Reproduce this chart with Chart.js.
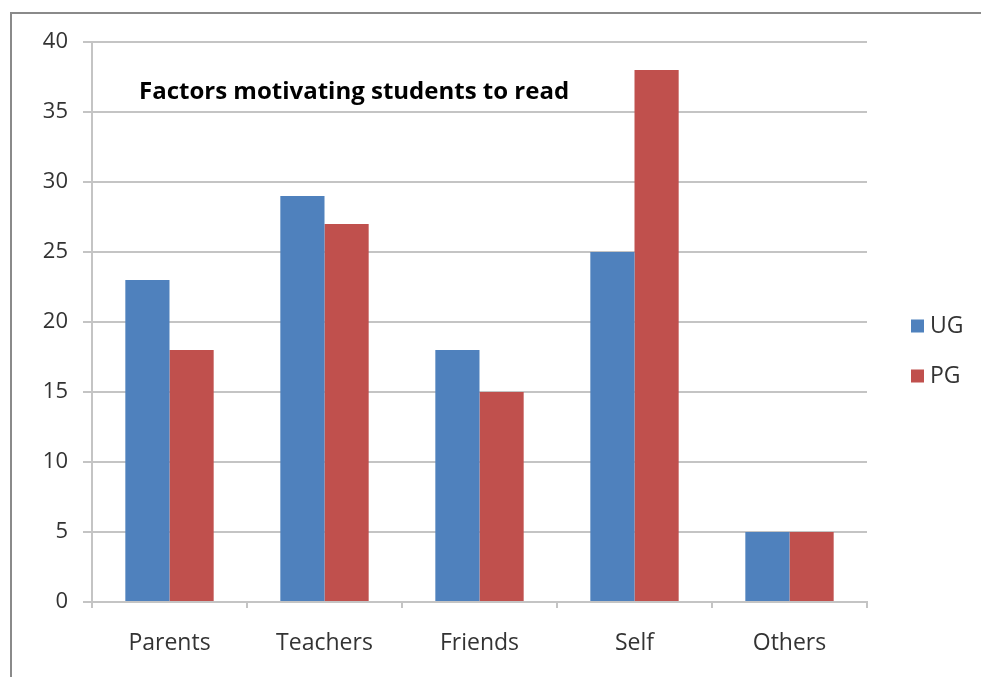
<!DOCTYPE html>
<html>
<head>
<meta charset="utf-8">
<script src="https://cdn.jsdelivr.net/npm/chart.js@4"></script>
<style>
  html, body { margin: 0; padding: 0; background: #fff; overflow: hidden; }
  #wrap { position: absolute; left: 0; top: 0; width: 981px; height: 677px; overflow: hidden; }
  #frame { position: absolute; left: 10px; top: 12px; width: 1100px; height: 800px;
           border: 2px solid #8a8a8a; box-sizing: border-box; }
  canvas { position: absolute; left: 0; top: 0; }
</style>
</head>
<body>
<div id="wrap">
  <div id="frame"></div>
  <canvas id="c" width="981" height="677"></canvas>
</div>
<script>
const categories = ["Parents", "Teachers", "Friends", "Self", "Others"];
const ugValues = [23, 29, 18, 25, 5];
const pgValues = [18, 27, 15, 38, 5];
const seriesNames = ["UG", "PG"];
const yTicks = [0, 5, 10, 15, 20, 25, 30, 35, 40];
const chartTitle = "Factors motivating students to read";

const FONT = "'Open Sans', 'Liberation Sans', sans-serif";
const gridColor = '#c4c4c4';

const titlePlugin = {
  id: 'insideTitle',
  afterDraw(chart) {
    const ctx = chart.ctx;
    ctx.save();
    ctx.font = "bold 24px " + FONT;
    ctx.fillStyle = '#000';
    ctx.textBaseline = 'middle';
    ctx.textAlign = 'left';
    ctx.fillText(chartTitle, 139, 92);
    ctx.restore();
  }
};

const legendPlugin = {
  id: 'sideLegend',
  afterDraw(chart) {
    const ctx = chart.ctx;
    ctx.save();
    ctx.font = "23px " + FONT;
    ctx.textBaseline = 'middle';
    ctx.textAlign = 'left';
    chart.data.datasets.forEach((ds, i) => {
      const cy = 326 + i * 50;
      ctx.fillStyle = ds.backgroundColor;
      ctx.fillRect(911, cy - 6.5, 13, 13);
      ctx.fillStyle = '#333';
      ctx.fillText(ds.label, 930, cy);
    });
    ctx.restore();
  }
};

new Chart(document.getElementById('c'), {
  type: 'bar',
  data: {
    labels: categories,
    datasets: [
      { label: seriesNames[0], data: ugValues, backgroundColor: '#4F81BD' },
      { label: seriesNames[1], data: pgValues, backgroundColor: '#C0504D' }
    ]
  },
  options: {
    responsive: false,
    animation: false,
    devicePixelRatio: 1,
    layout: { padding: { left: 0, top: 42, right: 114, bottom: 0 } },
    datasets: { bar: { categoryPercentage: 0.57, barPercentage: 1.0 } },
    plugins: { legend: { display: false }, title: { display: false }, tooltip: { enabled: false } },
    scales: {
      x: {
        offset: true,
        grid: { display: true, drawOnChartArea: false, drawTicks: true, tickLength: 6, color: gridColor, lineWidth: 2, offset: true },
        border: { display: true, color: gridColor, width: 2 },
        ticks: { color: '#333', font: { family: FONT, size: 23 }, padding: 22, maxRotation: 0 },
        afterFit(s) { s.height = 75; }
      },
      y: {
        min: 0, max: 40,
        afterBuildTicks(s) { s.ticks = yTicks.map(v => ({ value: v })); },
        grid: { color: gridColor, lineWidth: 2, tickLength: 9 },
        border: { display: true, color: gridColor, width: 2 },
        ticks: { color: '#333', font: { family: FONT, size: 22 }, padding: 15 },
        afterFit(s) { s.width = 92; }
      }
    }
  },
  plugins: [titlePlugin, legendPlugin]
});
</script>
</body>
</html>
